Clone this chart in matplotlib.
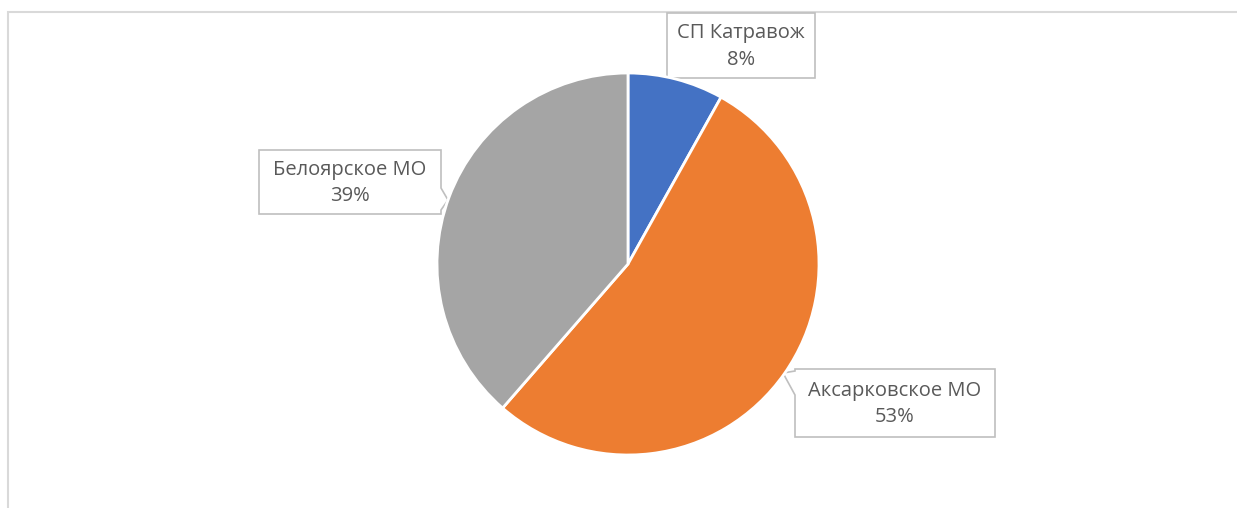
import matplotlib.pyplot as plt
from matplotlib.patches import Polygon

# --- data ---
labels = ["СП Катравож", "Аксарковское МО", "Белоярское МО"]
shares = [8.1, 53.3, 38.6]
colors = ["#4472C4", "#ED7D31", "#A5A5A5"]

W, H = 1237, 508
fig = plt.figure(figsize=(W / 100, H / 100), dpi=100)

# overlay axes in pixel coords (y down) for frame and callouts
ov = fig.add_axes([0, 0, 1, 1])
ov.set_xlim(0, W)
ov.set_ylim(H, 0)
ov.axis("off")

# chart frame (only left and top edges visible in the crop)
ov.plot([8, 8, W], [H, 12, 12], color="#D9D9D9", lw=1.5, solid_joinstyle="miter")

# pie
cx, cy, r = 628, 264, 191
ax = fig.add_axes([(cx - r) / W, (H - cy - r) / H, 2 * r / W, 2 * r / H])
ax.pie(shares, colors=colors, startangle=90, counterclock=False,
       wedgeprops=dict(edgecolor="white", linewidth=2))
ax.set_xlim(-1.0, 1.0)
ax.set_ylim(-1.0, 1.0)
ax.set_aspect("equal")
ax.axis("off")

# callout boxes: (left, top, right, bottom), pointer polygon or None
boxes = [
    ((667, 13, 815, 78), None),
    ((795, 369, 995, 437), [(795, 371), (783, 373), (795, 395)]),
    ((259, 150, 441, 214), [(441, 188), (448, 200), (441, 210)]),
]

total = sum(shares)
for (lab, val), ((x0, y0, x1, y1), ptr) in zip(zip(labels, shares), boxes):
    if ptr is None:
        pts = [(x0, y0), (x1, y0), (x1, y1), (x0, y1)]
    elif ptr[0][0] == x0:
        pts = [(x0, y0), (x1, y0), (x1, y1), (x0, y1)] + ptr[::-1]
    else:
        pts = [(x0, y0), (x1, y0)] + ptr + [(x1, y1), (x0, y1)]
    ov.add_patch(Polygon(pts, closed=True, facecolor="white",
                         edgecolor="#BFBFBF", lw=1.2, zorder=3))
    pct = round(val / total * 100)
    ov.text((x0 + x1) / 2, (y0 + y1) / 2 + 1, f"{lab}\n{pct}%", ha="center", va="center",
            fontsize=14.5, color="#595959", family="Open Sans", linespacing=1.45, zorder=4)

fig.savefig("out.png", dpi=100)
